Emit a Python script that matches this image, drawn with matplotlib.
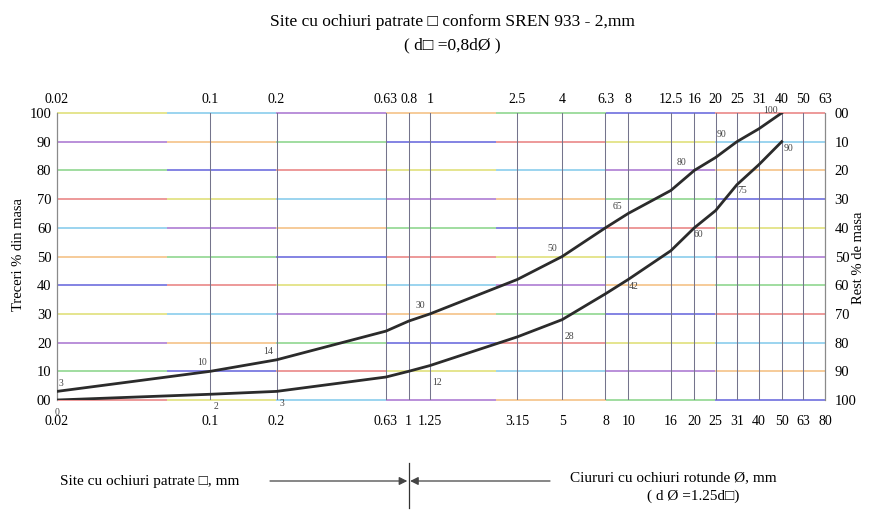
import numpy as np
import matplotlib
matplotlib.use("Agg")
import matplotlib.pyplot as plt
from matplotlib.transforms import blended_transform_factory
from matplotlib.ticker import NullLocator

plt.rcParams['font.family'] = ['Liberation Serif', 'DejaVu Serif', 'DejaVu Sans']

# ---- data ----
# grid positions expressed as square-mesh sieve sizes (top scale), mm
sieve_square = [0.02, 0.1, 0.2, 0.63, 0.8, 1, 2.5, 4, 6.3, 8, 12.5, 16, 20, 25, 31.5, 40, 50, 63]
top_labels = ['0.02', '0.1', '0.2', '0.63', '0.8', '1', '2.5', '4', '6.3', '8', '12.5', '16',
              '20', '25', '31', '40', '50', '63']
bottom_labels = ['0.02', '0.1', '0.2', '0.63', '1', '1.25', '3.15', '5', '8', '10', '16', '20',
                 '25', '31', '40', '50', '63', '80']

curve_x = [0.02, 0.1, 0.2, 0.63, 0.8, 1, 2.5, 4, 6.3, 8, 12.5, 16, 20, 25, 31.5, 40]
upper_pass = [3, 10, 14, 24, 27.5, 30, 42, 50, 60, 65, 73, 80, 84.5, 90, 94.5, 100]
lower_pass = [0, 2, 3, 8, 10, 12, 22, 28, 37, 42, 52, 60, 66, 75, 82, 90]

labeled_x = [0.02, 0.1, 0.2, 1, 4, 8, 16, 25, 40]

left_ticks = [0, 10, 20, 30, 40, 50, 60, 70, 80, 90, 100]
left_tick_labels = ['00', '10', '20', '30', '40', '50', '60', '70', '80', '90', '100']
right_tick_labels = ['100', '90', '80', '70', '60', '50', '40', '30', '20', '10', '00']

# ---- figure ----
W, H = 871, 516
fig = plt.figure(figsize=(W / 100, H / 100), dpi=100)
ax = fig.add_axes([57 / W, 116 / H, 768 / W, 287 / H])
ax.set_xscale('log')
ax.set_xlim(sieve_square[0], sieve_square[-1])
ax.set_ylim(0, 100)
ax.xaxis.set_minor_locator(NullLocator())

# coloured horizontal grid (scan-like rainbow segments)
palette = ['#e46a6a', '#f2b36a', '#d9d95a', '#74cc74', '#6cc0e8', '#4a4ad6', '#9a5cc8']
bounds = np.logspace(np.log10(sieve_square[0]), np.log10(sieve_square[-1]), 8)
for i, yv in enumerate(left_ticks):
    for j in range(len(bounds) - 1):
        c = palette[(3 * i + 2 * j) % len(palette)]
        ax.plot([bounds[j], bounds[j + 1]], [yv, yv], color=c, lw=1.2, alpha=0.8,
                solid_capstyle='butt', zorder=1, clip_on=False)

# vertical grid
for xv in sieve_square[1:-1]:
    ax.axvline(xv, color='#74748c', lw=0.75, zorder=1.5)

for s in ['top', 'bottom']:
    ax.spines[s].set_visible(False)
for s in ['left', 'right']:
    ax.spines[s].set_color('#8a8a8a')
    ax.spines[s].set_linewidth(0.9)

# curves
ax.plot(curve_x, upper_pass, color='#2b2b2b', lw=2.0, zorder=3, solid_joinstyle='round')
ax.plot(curve_x, lower_pass, color='#2b2b2b', lw=2.0, zorder=3, solid_joinstyle='round')

up_off = [(3, 6), (-6, 6), (-6, 6), (-7, 6), (-7, 6), (-8, 5), (-9, 6), (-11, 5), (-8, 2)]
lo_off = [(0, -9), (4, -9), (4, -9), (5, -12), (5, -12), (4, -5), (3, -5), (4, -4), (5, -5)]
for k, xv in enumerate(labeled_x):
    idx = curve_x.index(xv)
    ax.annotate(f'{upper_pass[idx]:g}', (xv, upper_pass[idx]), xytext=up_off[k],
                textcoords='offset points', fontsize=7, color='#444444',
                ha='center', va='center', zorder=4)
    ax.annotate(f'{lower_pass[idx]:g}', (xv, lower_pass[idx]), xytext=lo_off[k],
                textcoords='offset points', fontsize=7, color='#444444',
                ha='center', va='center', zorder=4, annotation_clip=False)

# ticks
ax.set_xticks(sieve_square, labels=bottom_labels)
ax.tick_params(axis='x', length=0, pad=11, labelsize=10)
ax.set_yticks(left_ticks, labels=left_tick_labels)
ax.tick_params(axis='y', length=0, pad=4, labelsize=10.5)

secx = ax.secondary_xaxis('top')
secx.set_xticks(sieve_square, labels=top_labels)
secx.xaxis.set_minor_locator(NullLocator())
secx.tick_params(axis='x', length=0, pad=5, labelsize=10)
secx.spines['top'].set_visible(False)

secy = ax.secondary_yaxis('right')
secy.set_yticks(left_ticks, labels=right_tick_labels)
secy.tick_params(axis='y', length=0, pad=7, labelsize=10.5)
secy.spines['right'].set_visible(False)

fig.text(18 / W, 1 - 255 / H, 'Treceri % din masa', rotation=90, ha='center', va='center',
         fontsize=10.5)
fig.text(858 / W, 1 - 258 / H, 'Rest % de masa', rotation=90, ha='center', va='center',
         fontsize=10.5)

# title
fig.text(452 / W, 1 - 22 / H, 'Site cu ochiuri patrate \u25a1 conform SREN 933 - 2,mm',
         ha='center', va='center', fontsize=12.5)
fig.text(452 / W, 1 - 45 / H, '( d\u25a1 =0,8d\u00d8 )', ha='center', va='center', fontsize=12.5)

# bottom annotation
tr = blended_transform_factory(ax.transData, fig.transFigure)
xsplit = 0.8
yarr = 1 - 481 / H
ax.plot([xsplit, xsplit], [1 - 463 / H, 1 - 508 / H], color='#333333', lw=0.9,
        transform=tr, clip_on=False)
ax.annotate('', xy=(xsplit, yarr), xycoords=tr, xytext=(270 / W, yarr),
            textcoords='figure fraction',
            arrowprops=dict(arrowstyle='-|>', color='#444444', lw=0.9, mutation_scale=12,
                            shrinkA=0, shrinkB=1))
ax.annotate('', xy=(xsplit, yarr), xycoords=tr, xytext=(550 / W, yarr),
            textcoords='figure fraction',
            arrowprops=dict(arrowstyle='-|>', color='#444444', lw=0.9, mutation_scale=12,
                            shrinkA=0, shrinkB=1))
fig.text(60 / W, yarr, 'Site cu ochiuri patrate \u25a1, mm', ha='left', va='center',
         fontsize=11)
fig.text(570 / W, 1 - 478 / H, 'Ciururi cu ochiuri rotunde \u00d8, mm', ha='left',
         va='center', fontsize=11)
fig.text(693 / W, 1 - 496 / H, '( d \u00d8 =1.25d\u25a1)', ha='center', va='center',
         fontsize=11)

fig.savefig('out.png', dpi=100)
